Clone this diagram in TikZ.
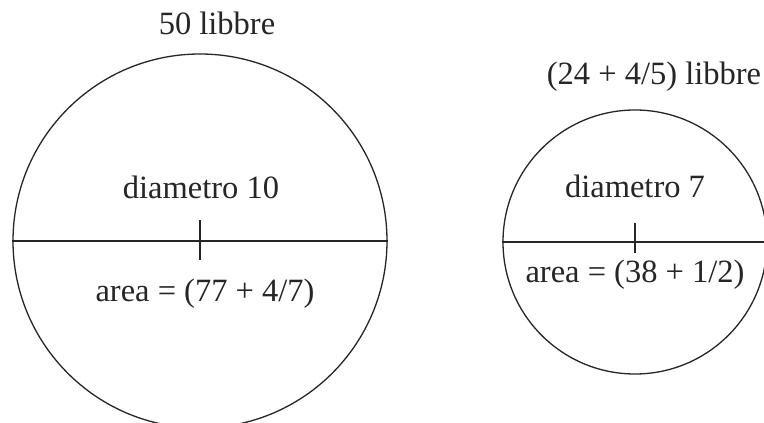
\documentclass[tikz,border=0pt]{standalone}
\usepackage{fontspec}
\setmainfont{Liberation Serif}
\begin{document}
\begin{tikzpicture}[x=1pt,y=1pt,
  disc/.style={draw=black!85, line width=1.3pt, circle, inner sep=0pt},
  lab/.style={anchor=base, inner sep=0pt, font=\fontsize{32.5}{39}\selectfont, text=black!85},
  dline/.style={draw=black!85, line width=1.6pt},
  tick/.style={draw=black!85, line width=1.6pt}]
\useasboundingbox (0,0) rectangle (764,423);
\clip (0,0) rectangle (764,423);
\fill[white] (0,0) rectangle (764,423);
% big circle
\node[disc, minimum size=374pt] (big) at (200,182) {};
\draw[dline] (big.west) -- (big.east);
\coordinate (bt1) at (200,203);
\coordinate (bt2) at (200,163);
\draw[tick] (bt1) -- (bt2);
\node[lab] (bw) at (217,388) {50 libbre};
\node[lab] (bd) at (201,224) {diametro 10};
\node[lab] (ba) at (205,121) {area = (77 + 4/7)};
% small circle
\node[disc, minimum size=264pt] (small) at (635,181) {};
\draw[dline] (small.west) -- (small.east);
\coordinate (st1) at (635,200);
\coordinate (st2) at (635,170);
\draw[tick] (st1) -- (st2);
\node[lab] (sw) at (654,338) {(24 + 4/5) libbre};
\node[lab] (sd) at (635,225) {diametro 7};
\node[lab] (sa) at (635,140) {area = (38 + 1/2)};
\end{tikzpicture}
\end{document}
